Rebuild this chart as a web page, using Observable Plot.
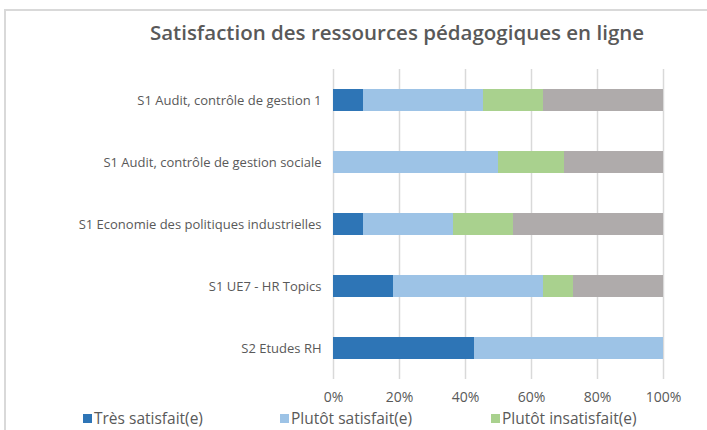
<!DOCTYPE html>
<html>
<head>
<meta charset="utf-8">
<script src="https://cdn.jsdelivr.net/npm/d3@7"></script>
<script src="https://cdn.jsdelivr.net/npm/@observablehq/plot@0.6"></script>
<style>
  html, body { margin: 0; padding: 0; background: #fff; }
  #wrap { position: relative; width: 707px; height: 430px; overflow: hidden; font-family: "Open Sans", sans-serif; color: #595959; }
  #frame { position: absolute; left: 4px; top: 9px; width: 800px; height: 600px; border-left: 2px solid #D9D9D9; border-top: 2px solid #D9D9D9; }
  #title { position: absolute; left: 0; width: 794px; top: 17px; line-height: 30px; text-align: center; font-size: 20.5px; font-weight: 600; color: #595959; white-space: nowrap; }
  #chart { position: absolute; left: 0; top: 50px; }
  .leg { position: absolute; font-size: 15.5px; line-height: 16px; white-space: nowrap; display: flex; align-items: center; }
  .sw { width: 9px; height: 9px; margin-right: 2px; display: inline-block; }
</style>
</head>
<body>
<div id="wrap">
  <div id="frame"></div>
  <div id="title">Satisfaction des ressources pédagogiques en ligne</div>
  <div id="chart"></div>
  <div id="legend"></div>
</div>
<script>
const categories = [
  "S1 Audit, contrôle de gestion 1",
  "S1 Audit, contrôle de gestion sociale",
  "S1 Economie des politiques industrielles",
  "S1 UE7 - HR Topics",
  "S2 Etudes RH"
];
const seriesNames = ["Très satisfait(e)", "Plutôt satisfait(e)", "Plutôt insatisfait(e)", "Très insatisfait(e)"];
const tresSatisfait     = [9.09, 0, 9.09, 18.18, 42.86];
const plutotSatisfait   = [36.36, 50, 27.27, 45.45, 57.14];
const plutotInsatisfait = [18.18, 20, 18.18, 9.09, 0];
const tresInsatisfait   = [36.37, 30, 45.46, 27.28, 0];
const xTicks = [0, 20, 40, 60, 80, 100];
const colors = ["#2E75B6", "#9DC3E6", "#A9D18E", "#AFABAB"];
// legend entries visible in the reference (the fourth wraps below the visible area)
const legendShown = ["Très satisfait(e)", "Plutôt satisfait(e)", "Plutôt insatisfait(e)"];

const seriesValues = [tresSatisfait, plutotSatisfait, plutotInsatisfait, tresInsatisfait];
const data = [];
categories.forEach((c, i) => {
  seriesNames.forEach((s, j) => data.push({category: c, series: s, value: seriesValues[j][i]}));
});

const chart = Plot.plot({
  width: 707,
  height: 360,
  marginTop: 19,
  marginBottom: 31,
  marginLeft: 333,
  marginRight: 44,
  style: {fontFamily: "'Open Sans', sans-serif", color: "#595959", background: "transparent"},
  x: {domain: [0, 100], label: null},
  y: {domain: categories, paddingInner: 0.645, paddingOuter: 0.3225, label: null},
  color: {domain: seriesNames, range: colors},
  marks: [
    Plot.ruleX(xTicks, {stroke: "#D9D9D9", strokeWidth: 1.5}),
    Plot.barX(data, {x: "value", y: "category", fill: "series"}),
    Plot.axisX({ticks: xTicks, tickFormat: d => d + "%", tickSize: 0, tickPadding: 13, fontSize: 14, label: null}),
    Plot.axisY({tickSize: 0, tickPadding: 12, fontSize: 13, label: null})
  ]
});
document.getElementById("chart").appendChild(chart);

const legendLeft = [83, 280, 491];
const legend = document.getElementById("legend");
legendShown.forEach((s, j) => {
  const item = document.createElement("div");
  item.className = "leg";
  item.style.left = legendLeft[j] + "px";
  item.style.top = "410px";
  const sw = document.createElement("span");
  sw.className = "sw";
  sw.style.background = colors[seriesNames.indexOf(s)];
  item.appendChild(sw);
  item.appendChild(document.createTextNode(s));
  legend.appendChild(item);
});
</script>
</body>
</html>
